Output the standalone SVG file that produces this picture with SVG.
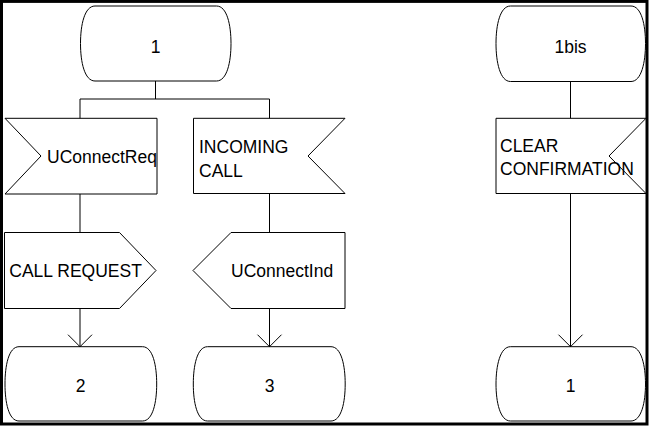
<svg xmlns="http://www.w3.org/2000/svg" width="651" height="427" viewBox="0 0 651 427">
  <defs>
    <style>
      .shape { fill: #ffffff; stroke: #000000; stroke-width: 1; }
      .line { fill: none; stroke: #000000; stroke-width: 1; }
      .frame { fill: #ffffff; stroke: #000000; stroke-width: 3; }
      text { font-family: "Liberation Sans", Arial, sans-serif; font-size: 17.5px; fill: #000000; }
      .mid { text-anchor: middle; }
    </style>
  </defs>

  <!-- page frame -->
  <rect class="frame" x="1.5" y="1.4" width="645.5" height="422.6"/>

  <!-- state 1 -->
  <g id="state-1">
    <path class="shape" d="M95,6 H216.5 C227,6 231,25 231,43.5 C231,62 227,81 216.5,81 H95 C84.5,81 80.5,62 80.5,43.5 C80.5,25 84.5,6 95,6 Z"/>
    <text class="mid" x="155.5" y="53">1</text>
  </g>

  <!-- input UConnectReq -->
  <g id="input-uconnectreq">
    <polygon class="shape" points="5,118.3 157,118.3 157,194 5,194 41,156"/>
    <text x="47" y="163">UConnectReq</text>
  </g>

  <!-- input INCOMING CALL -->
  <g id="input-incoming-call">
    <polygon class="shape" points="193.5,118.3 345,118.3 308,156 345,193.5 193.5,193.5"/>
    <text x="199" y="153.3">INCOMING</text>
    <text x="199" y="176.7">CALL</text>
  </g>

  <!-- output CALL REQUEST -->
  <g id="output-call-request">
    <polygon class="shape" points="4.5,232.5 119.5,232.5 156,270.5 119.5,308.5 4.5,308.5"/>
    <text x="9.3" y="277">CALL REQUEST</text>
  </g>

  <!-- output UConnectInd -->
  <g id="output-uconnectind">
    <polygon class="shape" points="231,232.5 345,232.5 345,308.5 231,308.5 193,270.5"/>
    <text x="231" y="277">UConnectInd</text>
  </g>

  <!-- state 2 -->
  <g id="state-2">
    <path class="shape" d="M19,346.7 H142.5 C153,346.7 156.7,366 156.7,384 C156.7,402 153,421 142.5,421 H19 C8.5,421 5,402 5,384 C5,366 8.5,346.7 19,346.7 Z"/>
    <text class="mid" x="80.5" y="391.5">2</text>
  </g>

  <!-- state 3 -->
  <g id="state-3">
    <path class="shape" d="M207.5,346.7 H331 C341.5,346.7 345.2,366 345.2,384 C345.2,402 341.5,421 331,421 H207.5 C197,421 193.3,402 193.3,384 C193.3,366 197,346.7 207.5,346.7 Z"/>
    <text class="mid" x="269.5" y="391.5">3</text>
  </g>

  <!-- state 1bis -->
  <g id="state-1bis">
    <path class="shape" d="M510.5,6 H631 C641.5,6 645.5,25 645.5,43.5 C645.5,62 641.5,81.5 631,81.5 H510.5 C500,81.5 496,62 496,43.5 C496,25 500,6 510.5,6 Z"/>
    <text class="mid" x="570.5" y="53">1bis</text>
  </g>

  <!-- input CLEAR CONFIRMATION -->
  <g id="input-clear-confirmation">
    <polygon class="shape" points="496,118.3 646,118.3 609,156 646,193.5 496,193.5"/>
    <text x="500" y="151.7">CLEAR</text>
    <text x="500" y="175">CONFIRMATION</text>
  </g>

  <!-- state 1 (return) -->
  <g id="state-1-return">
    <path class="shape" d="M510.5,346.7 H631 C641.5,346.7 645.5,366 645.5,384 C645.5,402 641.5,421 631,421 H510.5 C500,421 496,402 496,384 C496,366 500,346.7 510.5,346.7 Z"/>
    <text class="mid" x="570.5" y="391.5">1</text>
  </g>

  <!-- connectors, drawn last so the open arrowheads sit on top -->
  <g id="connectors">
    <path class="line" d="M155.5,81 V99 M80,99 H269.5 M80,99 V118.3 M269.5,99 V118.3"/>
    <path class="line" d="M80,194 V232.5"/>
    <path class="line" d="M269.5,193.5 V232.5"/>
    <path class="line" d="M570.5,81.5 V118.3"/>
    <path class="line" d="M80,308.5 V346.7"/>
    <path class="line" d="M68,334.7 L80,346.7 L92,334.7"/>
    <path class="line" d="M269.5,308.5 V346.7"/>
    <path class="line" d="M257.5,334.7 L269.5,346.7 L281.5,334.7"/>
    <path class="line" d="M570.5,193.5 V346.7"/>
    <path class="line" d="M558.5,334.7 L570.5,346.7 L582.5,334.7"/>
  </g>
</svg>
